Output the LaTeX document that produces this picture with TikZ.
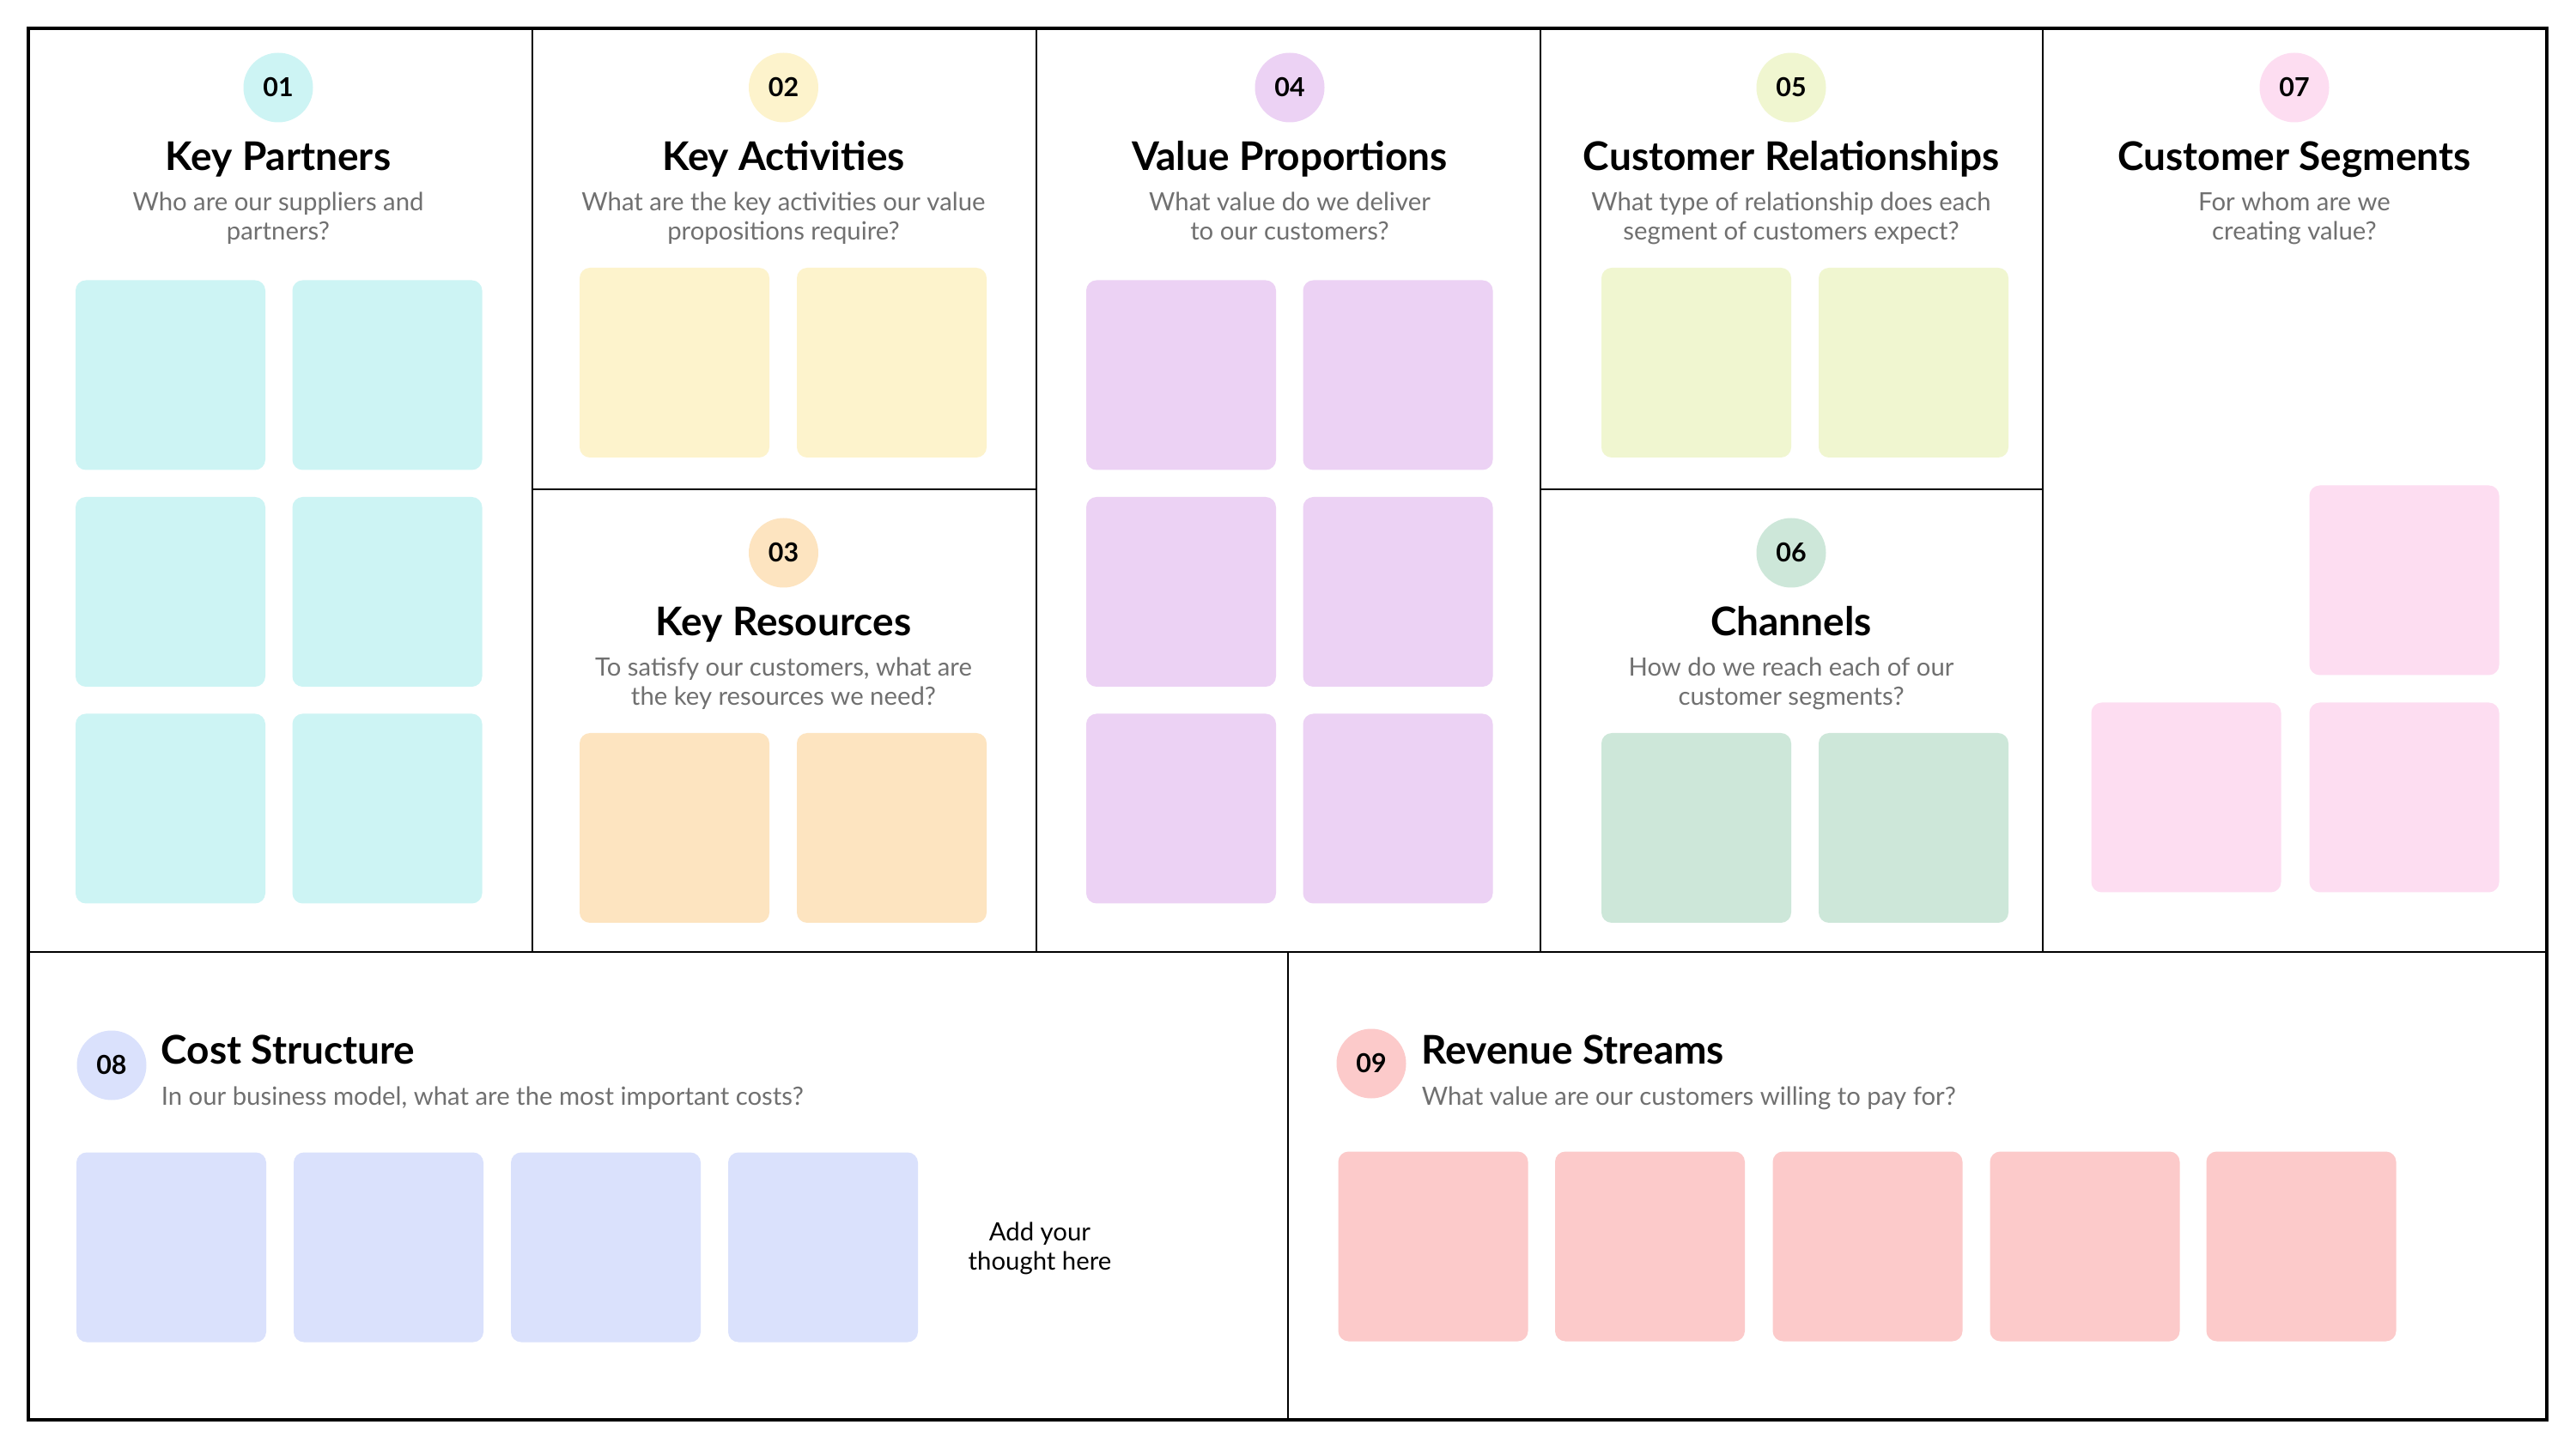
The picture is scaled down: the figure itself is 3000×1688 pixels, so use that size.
\documentclass[tikz,border=0pt]{standalone}
\usepackage{fontspec}
\setmainfont{Lato}
\definecolor{kpc}{RGB}{205,244,244}
\definecolor{kac}{RGB}{253,243,204}
\definecolor{krc}{RGB}{253,228,192}
\definecolor{vpc}{RGB}{236,210,244}
\definecolor{crc}{RGB}{240,246,208}
\definecolor{chc}{RGB}{205,231,217}
\definecolor{csc}{RGB}{253,221,241}
\definecolor{coc}{RGB}{218,225,252}
\definecolor{rvc}{RGB}{252,202,202}
\definecolor{subgray}{RGB}{112,112,112}
\begin{document}
\begin{tikzpicture}[x=0.25pt,y=-0.25pt,
  sticky/.style={rectangle, rounded corners=3pt, minimum width=55.25pt, minimum height=55.25pt, inner sep=0pt, draw=none},
  numc/.style={circle, minimum size=20.25pt, inner sep=0pt, font=\bfseries\fontsize{7.6}{9}\selectfont},
  ttl/.style={anchor=base, inner sep=0pt, font=\bfseries\fontsize{11.5}{13}\selectfont},
  sub/.style={anchor=base, inner sep=0pt, align=center, text=subgray, font=\fontsize{7.33}{8.5}\selectfont},
  gridline/.style={line width=0.4pt, draw=black},
  framebox/.style={line width=1pt, draw=black}]
\useasboundingbox (0,0) rectangle (3000,1688);
\fill[white] (0,0) rectangle (3000,1688);

% grid
\draw[gridline] (620,33) -- (620,1109);
\draw[gridline] (1207,33) -- (1207,1109);
\draw[gridline] (1794,33) -- (1794,1109);
\draw[gridline] (2379,33) -- (2379,1109);
\draw[gridline] (33,1109) -- (2966,1109);
\draw[gridline] (620,570) -- (1207,570);
\draw[gridline] (1794,570) -- (2379,570);
\draw[gridline] (1500,1109) -- (1500,1654);
\draw[framebox] (33,33) rectangle (2966,1654);

% 01 Key Partners
\node[numc, fill=kpc] (n01) at (324,102) {01};
\node[ttl] (t01) at (324,199) {Key Partners};
\node[sub] (s01) at (324,280) {Who are our suppliers and\\partners?};
\node[sticky, fill=kpc] (kp1) at (198.5,437) {};
\node[sticky, fill=kpc] (kp2) at (451,437) {};
\node[sticky, fill=kpc] (kp3) at (198.5,689.5) {};
\node[sticky, fill=kpc] (kp4) at (451,689.5) {};
\node[sticky, fill=kpc] (kp5) at (198.5,942) {};
\node[sticky, fill=kpc] (kp6) at (451,942) {};

% 02 Key Activities
\node[numc, fill=kac] (n02) at (912.5,102) {02};
\node[ttl] (t02) at (912.5,199) {Key Activities};
\node[sub] (s02) at (912.5,280) {What are the key activities our value\\propositions require?};
\node[sticky, fill=kac] (ka1) at (785.5,422.5) {};
\node[sticky, fill=kac] (ka2) at (1038.5,422.5) {};

% 03 Key Resources
\node[numc, fill=krc] (n03) at (912.5,644) {03};
\node[ttl] (t03) at (912.5,741) {Key Resources};
\node[sub] (s03) at (912.5,822) {To satisfy our customers, what are\\the key resources we need?};
\node[sticky, fill=krc] (kr1) at (785.5,964.5) {};
\node[sticky, fill=krc] (kr2) at (1038.5,964.5) {};

% 04 Value Proportions
\node[numc, fill=vpc] (n04) at (1502,102) {04};
\node[ttl] (t04) at (1502,199) {Value Proportions};
\node[sub] (s04) at (1502,280) {What value do we deliver\\to our customers?};
\node[sticky, fill=vpc] (vp1) at (1375.5,437) {};
\node[sticky, fill=vpc] (vp2) at (1628,437) {};
\node[sticky, fill=vpc] (vp3) at (1375.5,689.5) {};
\node[sticky, fill=vpc] (vp4) at (1628,689.5) {};
\node[sticky, fill=vpc] (vp5) at (1375.5,942) {};
\node[sticky, fill=vpc] (vp6) at (1628,942) {};

% 05 Customer Relationships
\node[numc, fill=crc] (n05) at (2086,102) {05};
\node[ttl] (t05) at (2086,199) {Customer Relationships};
\node[sub] (s05) at (2086,280) {What type of relationship does each\\segment of customers expect?};
\node[sticky, fill=crc] (cr1) at (1975.5,422.5) {};
\node[sticky, fill=crc] (cr2) at (2228.5,422.5) {};

% 06 Channels
\node[numc, fill=chc] (n06) at (2086,644) {06};
\node[ttl] (t06) at (2086,741) {Channels};
\node[sub] (s06) at (2086,822) {How do we reach each of our\\customer segments?};
\node[sticky, fill=chc] (ch1) at (1975.5,964.5) {};
\node[sticky, fill=chc] (ch2) at (2228.5,964.5) {};

% 07 Customer Segments
\node[numc, fill=csc] (n07) at (2672,102) {07};
\node[ttl] (t07) at (2672,199) {Customer Segments};
\node[sub] (s07) at (2672,280) {For whom are we\\creating value?};
\node[sticky, fill=csc] (cs1) at (2800,676) {};
\node[sticky, fill=csc] (cs2) at (2546,929) {};
\node[sticky, fill=csc] (cs3) at (2800,929) {};

% 08 Cost Structure
\node[numc, fill=coc] (n08) at (130,1241) {08};
\node[ttl, anchor=base west] (t08) at (187,1239) {Cost Structure};
\node[sub, anchor=base west] (s08) at (187,1287) {In our business model, what are the most important costs?};
\node[sticky, fill=coc] (co1) at (199.5,1453) {};
\node[sticky, fill=coc] (co2) at (452.5,1453) {};
\node[sticky, fill=coc] (co3) at (705.5,1453) {};
\node[sticky, fill=coc] (co4) at (958.5,1453) {};
\node[sub, text=black] (add) at (1211,1479) {Add your\\thought here};

% 09 Revenue Streams
\node[numc, fill=rvc] (n09) at (1597,1239) {09};
\node[ttl, anchor=base west] (t09) at (1655,1239) {Revenue Streams};
\node[sub, anchor=base west] (s09) at (1655,1287) {What value are our customers willing to pay for?};
\node[sticky, fill=rvc] (rv1) at (1669,1452) {};
\node[sticky, fill=rvc] (rv2) at (1921.5,1452) {};
\node[sticky, fill=rvc] (rv3) at (2175,1452) {};
\node[sticky, fill=rvc] (rv4) at (2428,1452) {};
\node[sticky, fill=rvc] (rv5) at (2680,1452) {};
\end{tikzpicture}
\end{document}
